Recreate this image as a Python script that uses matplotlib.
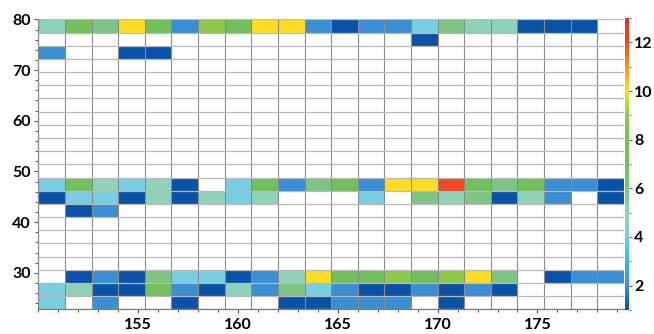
import numpy as np
import matplotlib
matplotlib.use("Agg")
import matplotlib.pyplot as plt
from matplotlib.colors import LinearSegmentedColormap, Normalize
from matplotlib.ticker import MultipleLocator

n = np.nan

# rejilla de 22 x 22 celdas; filas contadas desde arriba (fila 0 = 77.4-80)
fila_0 = [5, 7, 6, 10, 7, 2, 9, 7, 10, 10, 2, 1, 2, 2, 4, 6, 5, 5, 1, 1, 1, n]
fila_1 = [n] * 14 + [1] + [n] * 7
fila_2 = [2, n, n, 1, 1] + [n] * 17
fila_12 = [4, 7, 5, 4, 5, 1, n, 4, 7, 2, 6, 7, 2, 10, 10, 12, 7, 6, 7, 2, 2, 1]
fila_13 = [1, 4, 4, 1, 5, 1, 5, 4, 5, n, n, n, 4, n, 6, 5, 6, 1, 5, 2, n, 1]
fila_14 = [n, 1, 2] + [n] * 19
fila_19 = [n, 1, 2, 1, 6, 4, 4, 1, 2, 5, 10, 7, 7, 9, 7, 9, 10, 6, n, 1, 2, 2]
fila_20 = [4, 5, 1, 1, 7, 2, 1, 5, 2, 6, 4, 2, 1, 1, 2, 1, 2, 1, n, n, n, n]
fila_21 = [4, n, 2, n, n, 1, n, n, n, 1, 1, 2, 2, 2, n, 1, n, n, n, n, n, n]

filas = {0: fila_0, 1: fila_1, 2: fila_2, 12: fila_12, 13: fila_13,
         14: fila_14, 19: fila_19, 20: fila_20, 21: fila_21}

x_ticks = [155, 160, 165, 170, 175]
y_ticks = [30, 40, 50, 60, 70, 80]
cbar_ticks = [2, 4, 6, 8, 10, 12]

n_col, n_fil = 22, 22
matriz = np.full((n_fil, n_col), np.nan)
for i, fila in filas.items():
    matriz[i] = fila
matriz = np.ma.masked_invalid(matriz)

x_bordes = 150 + np.arange(n_col + 1) * 4 / 3
y_bordes = 80 - np.arange(n_fil + 1) * 2.6

# escala de colores 1..13
nodos = [(1, "#0a52a8"), (2, "#3a8fd5"), (3.3, "#3ec3ea"), (4, "#78cde0"),
         (5, "#8fd2b8"), (6, "#7ec583"), (7, "#72bf5c"), (8.5, "#7cc24e"),
         (9, "#8ec94c"), (10, "#fde023"), (12, "#ef4a22"), (13, "#dc3328")]
vmin, vmax = 1, 13
cmap = LinearSegmentedColormap.from_list(
    "escala", [((v - vmin) / (vmax - vmin), c) for v, c in nodos])
cmap.set_bad("white")

fig = plt.figure(figsize=(6.54, 3.34), dpi=100)
ax = fig.add_axes([0.0586, 0.074, 0.8955, 0.868])

malla = ax.pcolormesh(x_bordes, y_bordes, matriz, cmap=cmap,
                      norm=Normalize(vmin, vmax), shading="flat")

ax.vlines(x_bordes, y_bordes[-1], y_bordes[0], color="#8a8a8a", lw=0.8, zorder=3)
ax.hlines(y_bordes, x_bordes[0], x_bordes[-1], color="#b8b8b8", lw=0.9, zorder=3)

ax.set_xlim(x_bordes[0], x_bordes[-1])
ax.set_ylim(y_bordes[-1], y_bordes[0])

fuente = dict(family="Lato", weight="bold", size=11.5)
ax.set_xticks(x_ticks)
ax.set_yticks(y_ticks)
ax.set_xticklabels([str(t) for t in x_ticks], **fuente)
ax.set_yticklabels([str(t) for t in y_ticks], **fuente)
ax.xaxis.set_minor_locator(MultipleLocator(1))
ax.yaxis.set_minor_locator(MultipleLocator(2))
ax.tick_params(which="major", length=3, color="#555555", width=0.8, pad=2.5)
ax.tick_params(which="minor", length=2, color="#555555", width=0.7)
ax.tick_params(axis="x", which="major", pad=3)

for lado in ["top", "right"]:
    ax.spines[lado].set_visible(False)
for lado in ["left", "bottom"]:
    ax.spines[lado].set_color("#7a7a7a")
    ax.spines[lado].set_linewidth(0.9)

cax = fig.add_axes([0.9557, 0.072, 0.0055, 0.874])
cbar = fig.colorbar(malla, cax=cax, ticks=cbar_ticks)
cbar.outline.set_visible(False)
cbar.ax.yaxis.set_minor_locator(MultipleLocator(1))
cbar.ax.set_yticklabels([str(t) for t in cbar_ticks], **fuente)
cbar.ax.tick_params(which="major", length=2.5, color="#555555", width=0.7, pad=1.5)
cbar.ax.tick_params(which="minor", length=1.5, color="#555555", width=0.6)

fig.savefig("out.png", dpi=100)
